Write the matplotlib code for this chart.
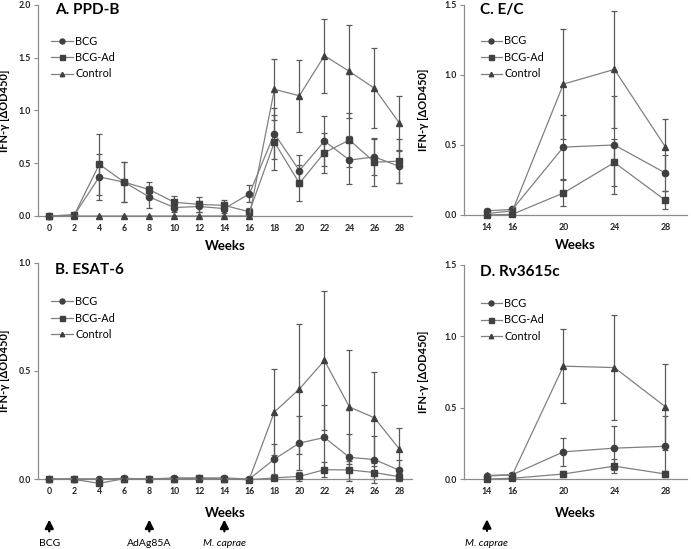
import numpy as np
import matplotlib
matplotlib.use('Agg')
import matplotlib.pyplot as plt

plt.rcParams['font.family'] = ['Lato', 'DejaVu Sans']

# Semanas de muestreo
weeks_all = [0, 2, 4, 6, 8, 10, 12, 14, 16, 18, 20, 22, 24, 26, 28]
weeks_late = [14, 16, 20, 24, 28]

# A. PPD-B
ppd_bcg = [0.0, 0.01, 0.37, 0.32, 0.18, 0.08, 0.09, 0.07, 0.21, 0.78, 0.43, 0.71, 0.53, 0.56, 0.47]
ppd_bcg_err = [0.0, 0.01, 0.22, 0.19, 0.10, 0.04, 0.05, 0.04, 0.08, 0.24, 0.15, 0.24, 0.23, 0.17, 0.16]
ppd_ad = [0.0, 0.01, 0.49, 0.32, 0.25, 0.13, 0.11, 0.10, 0.04, 0.70, 0.31, 0.60, 0.72, 0.51, 0.52]
ppd_ad_err = [0.0, 0.01, 0.29, 0.19, 0.07, 0.06, 0.07, 0.05, 0.04, 0.26, 0.17, 0.19, 0.26, 0.23, 0.21]
ppd_ctrl = [0.0, 0.0, 0.0, 0.0, 0.0, 0.0, 0.0, 0.0, 0.0, 1.20, 1.14, 1.52, 1.37, 1.21, 0.88]
ppd_ctrl_err = [0.0, 0.0, 0.0, 0.0, 0.0, 0.0, 0.0, 0.0, 0.0, 0.29, 0.34, 0.35, 0.44, 0.38, 0.26]

# B. ESAT-6
esat_bcg = [0.0, 0.0, 0.0, 0.003, 0.0, 0.005, 0.005, 0.005, 0.0, 0.092, 0.166, 0.192, 0.10, 0.09, 0.04]
esat_bcg_err = [0.0, 0.0, 0.0, 0.0, 0.0, 0.0, 0.0, 0.0, 0.0, 0.07, 0.124, 0.15, 0.11, 0.11, 0.05]
esat_ad = [0.0, -0.002, -0.02, 0.002, -0.002, 0.002, 0.003, 0.0, -0.003, 0.005, 0.012, 0.043, 0.042, 0.03, 0.01]
esat_ad_err = [0.0, 0.0, 0.0, 0.0, 0.0, 0.0, 0.0, 0.0, 0.0, 0.01, 0.02, 0.035, 0.04, 0.03, 0.02]
esat_ctrl = [0.0, 0.0, 0.0, 0.0, 0.0, 0.0, 0.0, 0.0, 0.0, 0.31, 0.416, 0.548, 0.333, 0.283, 0.138]
esat_ctrl_err = [0.0, 0.0, 0.0, 0.0, 0.0, 0.0, 0.0, 0.0, 0.0, 0.20, 0.30, 0.32, 0.265, 0.21, 0.10]

# C. E/C
ec_bcg = [0.03, 0.04, 0.485, 0.50, 0.30]
ec_bcg_err = [0.01, 0.01, 0.23, 0.35, 0.13]
ec_ad = [0.0, 0.005, 0.157, 0.375, 0.105]
ec_ad_err = [0.01, 0.01, 0.09, 0.165, 0.065]
ec_ctrl = [0.01, 0.03, 0.935, 1.04, 0.487]
ec_ctrl_err = [0.01, 0.01, 0.395, 0.42, 0.20]

# D. Rv3615c
rv_bcg = [0.02, 0.03, 0.19, 0.216, 0.229]
rv_bcg_err = [0.01, 0.01, 0.10, 0.155, 0.21]
rv_ad = [0.0, 0.005, 0.035, 0.09, 0.035]
rv_ad_err = [0.01, 0.01, 0.02, 0.05, 0.02]
rv_ctrl = [0.025, 0.03, 0.79, 0.78, 0.506]
rv_ctrl_err = [0.01, 0.01, 0.26, 0.37, 0.30]

group_names = ['BCG', 'BCG-Ad', 'Control']
markers = ['o', 's', '^']

# Vacunaciones / infeccion
events_ab = [0, 8, 14]
events_ab_labels = ['BCG', 'AdAg85A', 'M. caprae']
events_cd = [14]
events_cd_labels = ['M. caprae']

line_col = '#808080'
mark_col = '#404040'
err_col = '#5a5a5a'

fig = plt.figure(figsize=(6.91, 5.49), dpi=100)

def panel(rect, weeks, series, errs, title, ymax, yticks, xlim, xticks, ylab_x, title_x,
          title_y=0.965, leg_y=0.88):
    ax = fig.add_axes(rect)
    for vals, err, mk, name in zip(series, errs, markers, group_names):
        # barras de error primero, luego linea + marcador
        ax.errorbar(weeks, vals, yerr=err, fmt='none', ecolor=err_col, elinewidth=0.9,
                    capsize=2.5, capthick=0.9, clip_on=False)
        ax.plot(weeks, vals, color=line_col, lw=0.9, marker=mk,
                ms=4.5 if mk != '^' else 4, mfc=mark_col, mec=mark_col,
                label=name, clip_on=False, zorder=3)
    ax.set_xlim(*xlim)
    ax.set_ylim(0, ymax)
    ax.set_xticks(xticks)
    ax.set_yticks(yticks)
    ax.set_yticklabels(['{:.1f}'.format(v) for v in yticks])
    for s in ['top', 'right']:
        ax.spines[s].set_visible(False)
    for s in ['left', 'bottom']:
        ax.spines[s].set_color('#8c8c8c')
        ax.spines[s].set_linewidth(0.9)
    ax.tick_params(axis='x', length=0, pad=6, labelsize=6.3, colors='#222222')
    ax.tick_params(axis='y', length=3, width=0.8, color='#8c8c8c', pad=2, labelsize=6.3, labelcolor='#222222')
    for lab in ax.get_xticklabels() + ax.get_yticklabels():
        lab.set_fontweight('bold')
    ax.set_xlabel('Weeks', fontsize=9.5, fontweight='bold', labelpad=5)
    ax.set_ylabel('IFN-γ [ΔOD450]', fontsize=8, fontweight='bold')
    ax.yaxis.set_label_coords(ylab_x, 0.5)
    ax.text(title_x, title_y, title, transform=ax.transAxes, fontsize=11, fontweight='bold',
            ha='left', va='center')
    ax.legend(loc='upper left', bbox_to_anchor=(title_x - 0.03, leg_y), frameon=False,
              fontsize=7.8, handlelength=2.0, handletextpad=0.2, labelspacing=0.5,
              borderpad=0.2, markerscale=0.8)
    return ax

ax_a = panel([0.055, 0.6066, 0.5412, 0.3843], weeks_all,
             [ppd_bcg, ppd_ad, ppd_ctrl], [ppd_bcg_err, ppd_ad_err, ppd_ctrl_err],
             'A. PPD-B', 2.0, [0, 0.5, 1.0, 1.5, 2.0], (-0.9, 29), weeks_all, -0.075, 0.045,
             title_y=0.976, leg_y=0.891)
ax_b = panel([0.055, 0.1275, 0.5412, 0.394], weeks_all,
             [esat_bcg, esat_ad, esat_ctrl], [esat_bcg_err, esat_ad_err, esat_ctrl_err],
             'B. ESAT-6', 1.0, [0, 0.5, 1.0], (-0.9, 29), weeks_all, -0.075, 0.045)
ax_c = panel([0.6715, 0.6084, 0.3227, 0.3825], weeks_late,
             [ec_bcg, ec_ad, ec_ctrl], [ec_bcg_err, ec_ad_err, ec_ctrl_err],
             'C. E/C', 1.5, [0, 0.5, 1.0, 1.5], (12.2, 29.7), weeks_late, -0.157, 0.07,
             title_y=0.976, leg_y=0.891)
ax_d = panel([0.6715, 0.1275, 0.3227, 0.3903], weeks_late,
             [rv_bcg, rv_ad, rv_ctrl], [rv_bcg_err, rv_ad_err, rv_ctrl_err],
             'D. Rv3615c', 1.5, [0, 0.5, 1.0, 1.5], (12.2, 29.7), weeks_late, -0.157, 0.07)
ax_b.xaxis.labelpad = 8
ax_d.xaxis.labelpad = 8

def add_events(ax, wks, labels):
    tr = ax.get_xaxis_transform()
    for w, lab in zip(wks, labels):
        ax.annotate('', xy=(w, -0.175), xytext=(w, -0.255), xycoords=tr, textcoords=tr,
                    arrowprops=dict(arrowstyle='-|>,head_length=0.5,head_width=0.25',
                                    color='black', lw=1.6), annotation_clip=False)
        ax.text(w, -0.30, lab, transform=tr, ha='center', va='center', fontsize=7.5,
                style='italic' if lab.startswith('M.') else 'normal')

add_events(ax_b, events_ab, events_ab_labels)
add_events(ax_d, events_cd, events_cd_labels)

fig.savefig('out.png', dpi=100)
